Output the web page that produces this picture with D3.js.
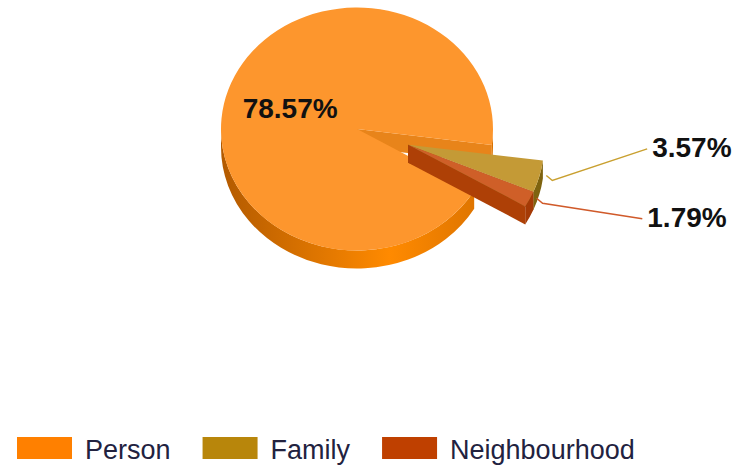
<!DOCTYPE html>
<html>
<head>
<meta charset="utf-8">
<script src="https://cdn.jsdelivr.net/npm/d3@7"></script>
<style>
  html, body { margin: 0; padding: 0; background: #fff; }
  svg { display: block; }
</style>
</head>
<body>
<svg id="chart" width="750" height="465"></svg>
<script>
// Share of cases by level
const categories = ["Person", "Family", "Neighbourhood"];
const values = [78.57, 3.57, 1.79];
const exploded = [false, true, true];

// Colours
const topColors = ["#FD962D", "#C49A36", "#CF5F28"];
const faceColors = ["#E8841A", "#7E630F", "#AE4006"];
const wallColors = ["url(#personWall)", "#7E630F", "#A53A06"];
const legendColors = ["#FF8000", "#B8860B", "#BF4000"];
const leaderColors = ["#E08020", "#C9A030", "#D05A2A"];

const svg = d3.select("#chart");

// 3D pie geometry
const cx = 357, cy = 129, rx = 136, ry = 121.5, depth = 18;
const explodeDist = 54;
const startDeg = 120.5;

const pie = d3.pie().sort(null)
  .startAngle(startDeg * Math.PI / 180)
  .endAngle(startDeg * Math.PI / 180 + 2 * Math.PI);
const arcs = pie(values);

// d3 angle (0 at 12 o'clock, clockwise) -> screen angle (0 at 3 o'clock)
const toScreen = a => a - Math.PI / 2;

const defs = svg.append("defs");
const grad = defs.append("linearGradient")
  .attr("id", "personWall")
  .attr("gradientUnits", "userSpaceOnUse")
  .attr("x1", cx - rx).attr("x2", cx + rx).attr("y1", 0).attr("y2", 0);
grad.append("stop").attr("offset", 0).attr("stop-color", "#B35A00");
grad.append("stop").attr("offset", 0.62).attr("stop-color", "#FF8A00");
grad.append("stop").attr("offset", 1).attr("stop-color", "#D97100");

function pt(c, phi, dy = 0) {
  return [c[0] + rx * Math.cos(phi), c[1] + ry * Math.sin(phi) + dy];
}

function topPath(c, p0, p1) {
  const a = pt(c, p0), b = pt(c, p1);
  const large = (p1 - p0) > Math.PI ? 1 : 0;
  return `M${c[0]},${c[1]}L${a[0]},${a[1]}A${rx},${ry} 0 ${large} 1 ${b[0]},${b[1]}Z`;
}

// Outer wall, only where it faces the viewer (front half of the ellipse)
function wallPaths(c, p0, p1) {
  const out = [];
  for (let k = -1; k <= 2; k++) {
    const lo = Math.max(p0, 2 * Math.PI * k);
    const hi = Math.min(p1, 2 * Math.PI * k + Math.PI);
    if (hi - lo > 1e-4) {
      const a = pt(c, lo), b = pt(c, hi), bd = pt(c, hi, depth), ad = pt(c, lo, depth);
      const large = (hi - lo) > Math.PI ? 1 : 0;
      out.push(`M${a[0]},${a[1]}A${rx},${ry} 0 ${large} 1 ${b[0]},${b[1]}` +
               `L${bd[0]},${bd[1]}A${rx},${ry} 0 ${large} 0 ${ad[0]},${ad[1]}Z`);
    }
  }
  return out;
}

// Radial cut face of a slice
function facePath(c, phi) {
  const o = pt(c, phi), od = pt(c, phi, depth);
  return `M${c[0]},${c[1]}L${o[0]},${o[1]}L${od[0]},${od[1]}L${c[0]},${c[1] + depth}Z`;
}

// Detached slices are pulled out together along the bisector of their group
const detached = arcs.filter((d, i) => exploded[i]);
const groupMid = toScreen((d3.min(detached, d => d.startAngle) + d3.max(detached, d => d.endAngle)) / 2);
const pull = [explodeDist * Math.cos(groupMid), explodeDist * (ry / rx) * Math.sin(groupMid)];

const slices = arcs.map((d, i) => {
  const p0 = toScreen(d.startAngle), p1 = toScreen(d.endAngle);
  const mid = (p0 + p1) / 2;
  const c = exploded[i] ? [cx + pull[0], cy + pull[1]] : [cx, cy];
  return { d, i, p0, p1, mid, c };
});

const pieG = svg.append("g");
slices.forEach(s => {
  const g = pieG.append("g");
  wallPaths(s.c, s.p0, s.p1).forEach(p =>
    g.append("path").attr("d", p).attr("fill", wallColors[s.i]));
  if (Math.cos(s.p0) < 0)
    g.append("path").attr("d", facePath(s.c, s.p0)).attr("fill", faceColors[s.i]);
  if (Math.cos(s.p1) > 0)
    g.append("path").attr("d", facePath(s.c, s.p1)).attr("fill", faceColors[s.i]);
  g.append("path").attr("d", topPath(s.c, s.p0, s.p1)).attr("fill", topColors[s.i]);
});

// Value labels
const fmt = v => d3.format(".2f")(v) + "%";
const labelFont = "'Liberation Sans', Arial, sans-serif";

// Inner label for the large slice
const big = slices[0];
const inner = [big.c[0] + 0.52 * rx * Math.cos(big.mid), big.c[1] + 0.52 * ry * Math.sin(big.mid)];
svg.append("text")
  .attr("x", inner[0]).attr("y", inner[1] + 10)
  .attr("text-anchor", "middle")
  .attr("font-family", labelFont).attr("font-weight", "bold")
  .attr("font-size", 28).attr("fill", "#111")
  .text(fmt(values[0]));

// Outside labels with leader lines for the detached slices
const outside = slices.filter(s => exploded[s.i]).map(s => {
  const anchor = pt(s.c, s.mid);
  return { s, anchor, y: anchor[1] };
});
const gap = 70;
const meanY = d3.mean(outside, o => o.y);
outside.forEach((o, k) => { o.y = meanY + (k - (outside.length - 1) / 2) * gap + 4; });

const line = d3.line();
outside.forEach(o => {
  const labelX = o.anchor[0] + (765 - o.anchor[0]) / 2;
  const start = [o.anchor[0] + 7, o.anchor[1] - 1];
  const elbow = [start[0] + 6, start[1] + 5];
  const end = [labelX - 5, o.y - 8];
  svg.append("path")
    .attr("d", line([start, elbow, end]))
    .attr("fill", "none")
    .attr("stroke", leaderColors[o.s.i])
    .attr("stroke-width", 1.5);
  svg.append("text")
    .attr("x", labelX).attr("y", o.y)
    .attr("font-family", labelFont).attr("font-weight", "bold")
    .attr("font-size", 28).attr("fill", "#111")
    .text(fmt(values[o.s.i]));
});

// Legend
const legend = svg.append("g");
let lx = 17;
categories.forEach((name, i) => {
  legend.append("rect")
    .attr("x", lx).attr("y", 437).attr("width", 55).attr("height", 22)
    .attr("fill", legendColors[i]);
  const t = legend.append("text")
    .attr("x", lx + 68).attr("y", 459)
    .attr("font-family", labelFont).attr("font-size", 27)
    .attr("fill", "#22223F")
    .text(name);
  lx = lx + 68 + t.node().getComputedTextLength() + 32;
});
</script>
</body>
</html>
